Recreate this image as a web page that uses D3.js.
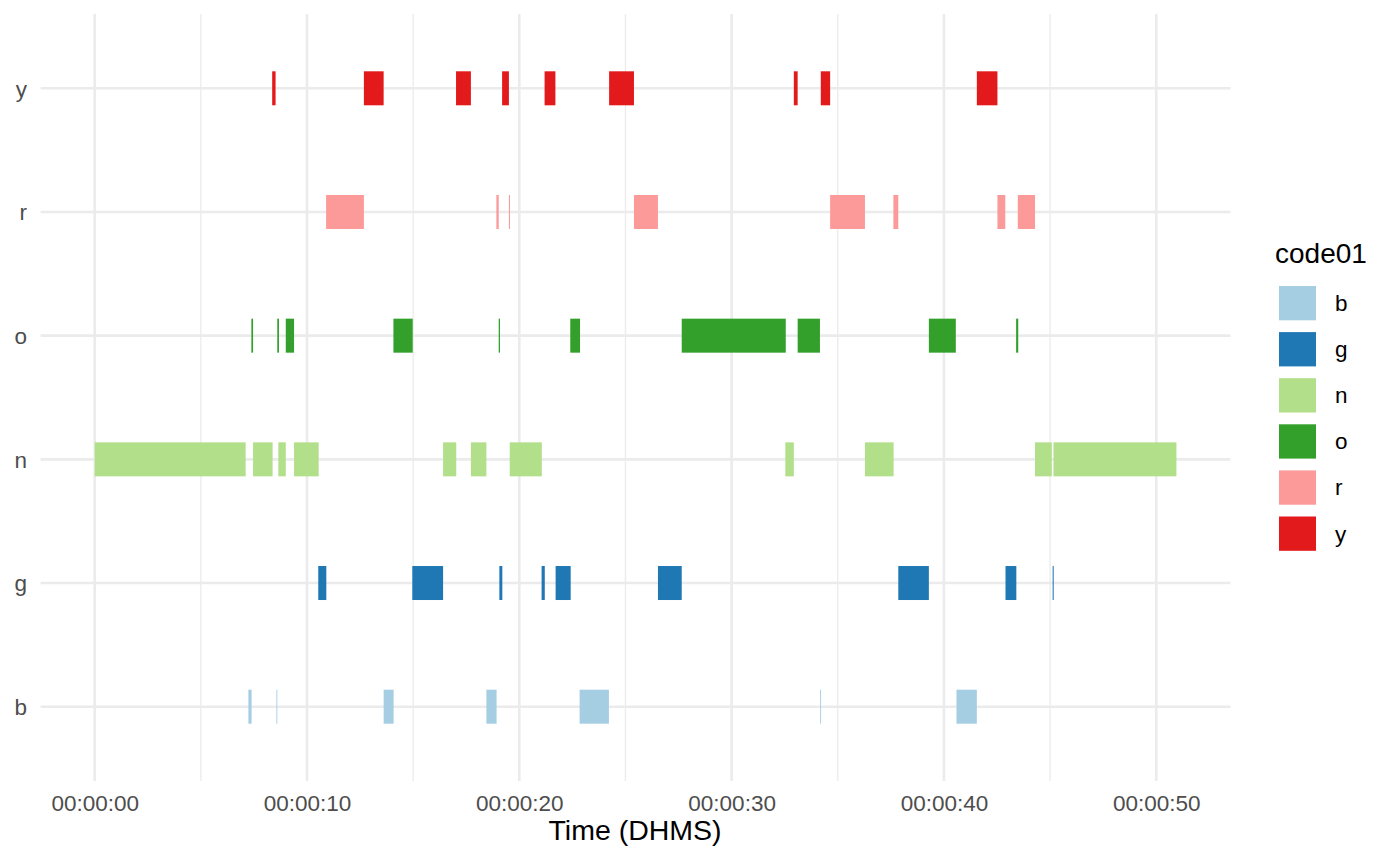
<!DOCTYPE html>
<html>
<head>
<meta charset="utf-8">
<script src="https://cdn.jsdelivr.net/npm/d3@7"></script>
<style>
  html, body { margin: 0; padding: 0; background: #ffffff; }
  svg { display: block; font-family: "Liberation Sans", Arial, Helvetica, sans-serif; }
</style>
</head>
<body>
<svg id="chart" width="1400" height="865"></svg>
<script>
// ---- data (seconds) ----
const codes = ["b", "g", "n", "o", "r", "y"];
const codeColors = ["#A6CEE3", "#1F78B4", "#B2DF8A", "#33A02C", "#FB9A99", "#E31A1C"];
const majorTicks = [0, 10, 20, 30, 40, 50];
const minorTicks = [5, 15, 25, 35, 45];
const xTitle = "Time (DHMS)";
const legendTitle = "code01";

const segB = [[7.24,7.39],[8.56,8.60],[13.61,14.08],[18.45,18.93],[22.84,24.22],[34.17,34.21],[40.59,41.55]];
const segG = [[10.53,10.91],[14.96,16.41],[19.06,19.20],[21.05,21.20],[21.71,22.42],[26.53,27.65],[37.85,39.29],[42.90,43.41],[45.12,45.17]];
const segN = [[0,7.11],[7.46,8.38],[8.65,9.00],[9.39,10.55],[16.41,17.03],[17.72,18.45],[19.55,21.06],[32.53,32.93],[36.28,37.63],[44.29,45.08],[45.16,50.95]];
const segO = [[7.38,7.46],[8.60,8.68],[9.00,9.39],[14.07,14.98],[19.03,19.09],[22.40,22.86],[27.65,32.55],[33.11,34.16],[39.29,40.56],[43.40,43.50]];
const segR = [[10.90,12.68],[18.92,19.03],[19.51,19.56],[25.40,26.53],[34.64,36.28],[37.62,37.85],[42.52,42.89],[43.48,44.29]];
const segY = [[8.36,8.52],[12.68,13.61],[17.02,17.72],[19.19,19.51],[21.19,21.70],[24.23,25.40],[32.93,33.11],[34.20,34.64],[41.55,42.52]];

const segByCode = { b: segB, g: segG, n: segN, o: segO, r: segR, y: segY };
const records = [];
codes.forEach(c => segByCode[c].forEach(s => records.push({ code: c, start: s[0], end: s[1] })));

// ---- layout ----
const panel = { left: 40.6, right: 1230.5, top: 14, bottom: 781 };
const svg = d3.select("#chart");

const dataMax = d3.max(records, d => d.end);
const expand = dataMax * 0.05;
const x = d3.scaleLinear().domain([-expand, dataMax + expand]).range([panel.left, panel.right]);
const y = d3.scalePoint().domain(codes).range([706.7, 88.3]);
const color = d3.scaleOrdinal().domain(codes).range(codeColors);

const fmt = s => {
  const hh = Math.floor(s / 3600), mm = Math.floor((s % 3600) / 60), ss = Math.round(s % 60);
  return [hh, mm, ss].map(v => String(v).padStart(2, "0")).join(":");
};

// grid
const grid = svg.append("g");
grid.selectAll("line.minor").data(minorTicks).join("line")
  .attr("x1", d => x(d)).attr("x2", d => x(d))
  .attr("y1", panel.top).attr("y2", panel.bottom)
  .attr("stroke", "#EBEBEB").attr("stroke-width", 1.3);
grid.selectAll("line.majx").data(majorTicks).join("line")
  .attr("x1", d => x(d)).attr("x2", d => x(d))
  .attr("y1", panel.top).attr("y2", panel.bottom)
  .attr("stroke", "#EBEBEB").attr("stroke-width", 2.6);
grid.selectAll("line.majy").data(codes).join("line")
  .attr("x1", panel.left).attr("x2", panel.right)
  .attr("y1", d => y(d)).attr("y2", d => y(d))
  .attr("stroke", "#EBEBEB").attr("stroke-width", 2.6);

// bars
const barH = 34;
svg.append("g").selectAll("rect").data(records).join("rect")
  .attr("x", d => x(d.start))
  .attr("width", d => Math.max(0.9, x(d.end) - x(d.start)))
  .attr("y", d => y(d.code) - barH / 2)
  .attr("height", barH)
  .attr("fill", d => color(d.code));

// x axis labels
const xAxis = d3.axisBottom(x).tickValues(majorTicks).tickFormat(fmt).tickSize(0).tickPadding(0);
const gx = svg.append("g").attr("transform", `translate(0,${panel.bottom})`).call(xAxis);
gx.select(".domain").remove();
gx.selectAll("text").attr("font-size", 22.5).attr("fill", "#4D4D4D")
  .attr("font-family", "Liberation Sans, Arial, sans-serif")
  .attr("dy", null).attr("y", 30);

// y axis labels
const yAxis = d3.axisLeft(y).tickSize(0).tickPadding(0);
const gy = svg.append("g").attr("transform", `translate(27,0)`).call(yAxis);
gy.select(".domain").remove();
gy.selectAll("text").attr("font-size", 22.5).attr("fill", "#4D4D4D")
  .attr("font-family", "Liberation Sans, Arial, sans-serif")
  .attr("dy", "0.35em").attr("x", 0);

// x title
svg.append("text").attr("x", (panel.left + panel.right) / 2 - 0.5).attr("y", 840)
  .attr("text-anchor", "middle").attr("font-size", 28.5).attr("fill", "#000")
  .text(xTitle);

// legend
const lg = svg.append("g");
lg.append("text").attr("x", 1275).attr("y", 263).attr("font-size", 28).attr("fill", "#000").text(legendTitle);
const keyTop = 286, keyStep = 46.1, keyH = 34.3, keyW = 37;
const items = lg.selectAll("g.item").data(codes).join("g")
  .attr("transform", (d, i) => `translate(1279,${keyTop + i * keyStep})`);
items.append("rect").attr("width", keyW).attr("height", keyH).attr("fill", d => color(d));
items.append("text").attr("x", 56).attr("y", keyH / 2).attr("dy", "0.35em")
  .attr("font-size", 22.5).attr("fill", "#000").text(d => d);
</script>
</body>
</html>
